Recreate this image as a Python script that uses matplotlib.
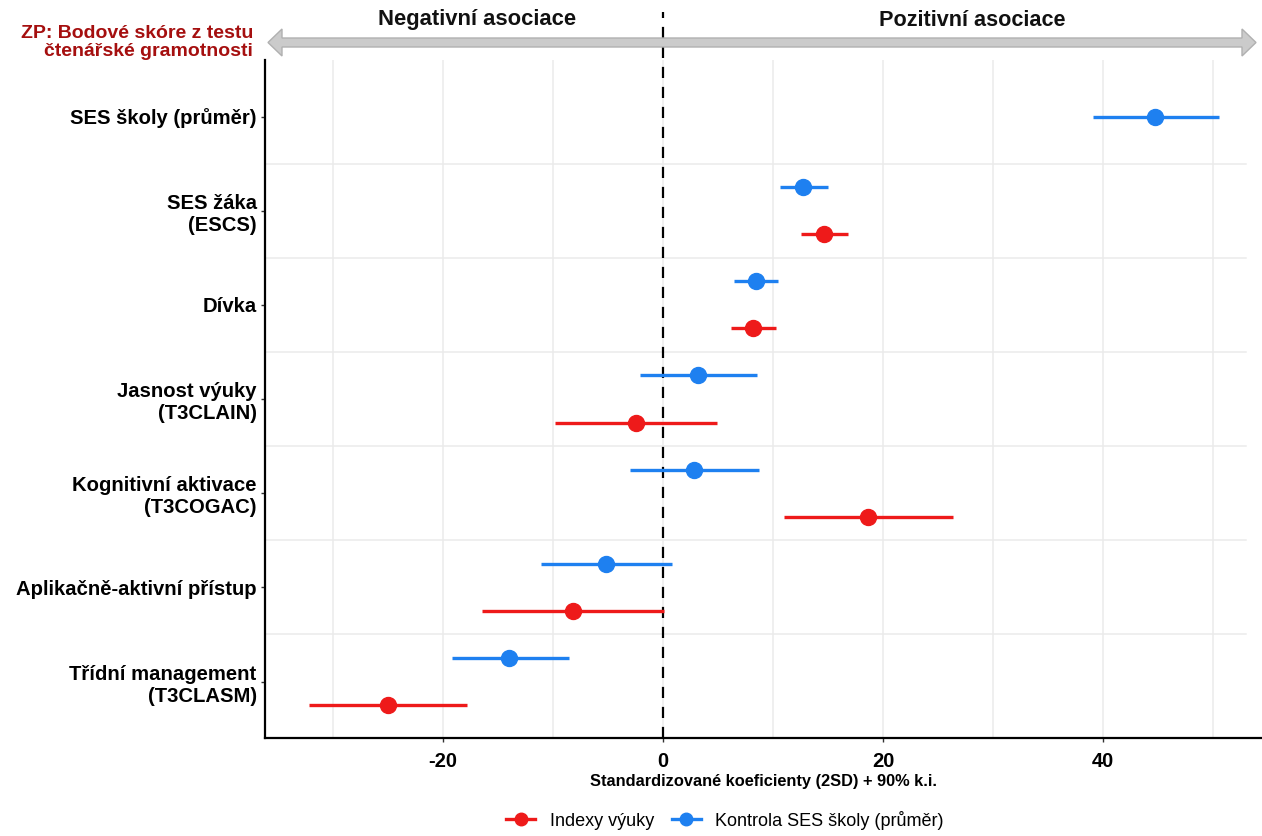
import matplotlib
matplotlib.use("Agg")
import matplotlib.pyplot as plt
from matplotlib.lines import Line2D
from matplotlib.patches import Polygon
import numpy as np

plt.rcParams['font.family'] = ['Liberation Sans', 'DejaVu Sans']

# ---------------- data ----------------
categories = ["SES školy (průměr)", "SES žáka\n(ESCS)", "Dívka", "Jasnost výuky\n(T3CLAIN)",
              "Kognitivní aktivace\n(T3COGAC)", "Aplikačně-aktivní přístup",
              "Třídní management\n(T3CLASM)"]

# Kontrola SES školy (průměr) -- blue
blue_est = [44.7, 12.7, 8.4, 3.2, 2.8, -5.2, -14.0]
blue_lo = [39.1, 10.6, 6.4, -2.1, -3.0, -11.1, -19.2]
blue_hi = [50.5, 15.0, 10.4, 8.5, 8.7, 0.8, -8.6]

# Indexy výuky -- red (no estimate for SES školy)
red_est = [None, 14.6, 8.2, -2.5, 18.6, -8.2, -25.0]
red_lo = [None, 12.5, 6.2, -9.8, 11.0, -16.5, -32.2]
red_hi = [None, 16.8, 10.3, 4.9, 26.4, 0.1, -17.8]

series_names = ["Indexy výuky", "Kontrola SES školy (průměr)"]
x_ticks = [-20, 0, 20, 40]

RED = "#EE1A1A"
BLUE = "#1E80F0"

W, H = 1262, 836
fig = plt.figure(figsize=(W / 100, H / 100), dpi=100)

def fx(px):
    return px / W

def fy(py):
    return 1 - py / H

ax = fig.add_axes([fx(265), fy(738), fx(1262) - fx(265), fy(60) - fy(738)])

n = len(categories)
ypos = np.arange(n)
ax.set_ylim(n - 1 + 0.6, -0.6)
ax.set_xlim(-36.2, 54.45)

# grid
for v in range(-30, 60, 10):
    ax.axvline(v, color="#ebebeb", lw=1.1, zorder=0)
for k in range(n - 1):
    ax.plot([-36.2, 53.0], [k + 0.5, k + 0.5], color="#ebebeb", lw=1.1, zorder=0)

# zero dashed line (extends above the panel)
ax.plot([0, 0], [n - 1 + 0.6, -1.11], color="black", lw=1.6, ls=(0, (5, 4)),
        clip_on=False, zorder=2)

off = 0.25
for i in range(n):
    has_red = red_est[i] is not None
    yb = i - off if has_red else i
    ax.plot([blue_lo[i], blue_hi[i]], [yb, yb], color=BLUE, lw=2.4, solid_capstyle='butt', zorder=3)
    ax.plot(blue_est[i], yb, 'o', color=BLUE, ms=11.5, zorder=4)
    if has_red:
        yr = i + off
        ax.plot([red_lo[i], red_hi[i]], [yr, yr], color=RED, lw=2.4, solid_capstyle='butt', zorder=3)
        ax.plot(red_est[i], yr, 'o', color=RED, ms=11.5, zorder=4)

ax.set_yticks(ypos)
ax.set_yticklabels(categories, fontsize=14.6, fontweight='bold', linespacing=1.2)
ax.set_xticks(x_ticks)
ax.set_xticklabels([str(t) for t in x_ticks], fontsize=14.5, fontweight='bold')
ax.tick_params(axis='both', length=3, width=1, color='#333333')
ax.tick_params(axis='y', pad=3)
ax.tick_params(axis='x', pad=7)
ax.set_xlabel("Standardizované koeficienty (2SD) + 90% k.i.", fontsize=11.8, fontweight='bold', labelpad=2)

for s in ['top', 'right']:
    ax.spines[s].set_visible(False)
for s in ['left', 'bottom']:
    ax.spines[s].set_linewidth(1.6)
    ax.spines[s].set_color('black')

# top double arrow
ym, hs, hh = 42.5, 4.5, 13.5
xl, xr, hl = 268, 1256, 14
pts_px = [(xl, ym), (xl + hl, ym - hh), (xl + hl, ym - hs), (xr - hl, ym - hs), (xr - hl, ym - hh),
          (xr, ym), (xr - hl, ym + hh), (xr - hl, ym + hs), (xl + hl, ym + hs), (xl + hl, ym + hh)]
arrow = Polygon([(fx(a), fy(b)) for a, b in pts_px], closed=True, transform=fig.transFigure,
                facecolor="#cbcbcb", edgecolor="#b0b0b0", lw=1.0)
fig.patches.append(arrow)

fig.text(fx(477), fy(20), "Negativní asociace", fontsize=15.8, fontweight='bold',
         ha='center', va='center', color='#111111')
fig.text(fx(972), fy(20), "Pozitivní asociace", fontsize=15.6, fontweight='bold',
         ha='center', va='center', color='#111111')

# dependent variable label
fig.text(fx(253), fy(33), "ZP: Bodové skóre z testu", fontsize=14.0, fontweight='bold',
         ha='right', va='center', color='#A50F0F')
fig.text(fx(253), fy(52), "čtenářské gramotnosti", fontsize=14.0, fontweight='bold',
         ha='right', va='center', color='#A50F0F')

# legend
handles = [Line2D([0], [0], color=RED, lw=2.4, marker='o', ms=9),
           Line2D([0], [0], color=BLUE, lw=2.4, marker='o', ms=9)]
fig.legend(handles, series_names, loc='center', bbox_to_anchor=(fx(725), fy(820)),
           ncol=2, frameon=False, fontsize=13, handlelength=1.6, columnspacing=1.0,
           handletextpad=0.8)

fig.savefig("out.png", dpi=100, facecolor='white')
